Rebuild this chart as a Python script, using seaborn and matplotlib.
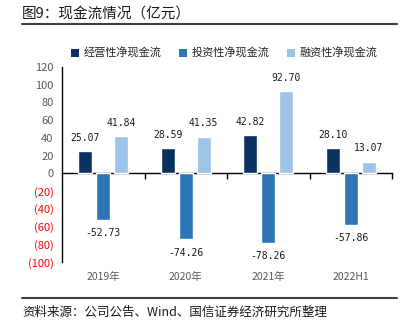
import matplotlib
matplotlib.use("Agg")
import matplotlib.pyplot as plt
import seaborn as sns
import pandas as pd
from matplotlib.patches import Patch

sns.set_style("white")
plt.rcParams['font.family'] = ['Noto Sans CJK SC', 'DejaVu Sans']

categories = ["2019年", "2020年", "2021年", "2022H1"]
series = ["经营性净现金流", "投资性净现金流", "融资性净现金流"]
operating = [25.07, 28.59, 42.82, 28.10]
investing = [-52.73, -74.26, -78.26, -57.86]
financing = [41.84, 41.35, 92.70, 13.07]
yticks = [120, 100, 80, 60, 40, 20, 0, -20, -40, -60, -80, -100]
colors = ["#0b3161", "#2e75b6", "#9dc3e6"]

rows = []
for s, vals in zip(series, [operating, investing, financing]):
    for c, v in zip(categories, vals):
        rows.append({"cat": c, "series": s, "value": v})
df = pd.DataFrame(rows)

fig = plt.figure(figsize=(4.04, 3.25), dpi=100)
ax = fig.add_axes([62/404, 1-262/325, 330/404, 195/325])

sns.barplot(data=df, x="cat", y="value", hue="series", hue_order=series,
            order=categories, palette=colors, width=0.65, gap=0.22,
            ax=ax, legend=False, saturation=1)

ax.set_xlim(-0.5, 3.5)
ax.set_ylim(-100, 120)
ax.set_xlabel("")
ax.set_ylabel("")
ax.set_yticks(yticks)
ylabels = [str(t) if t >= 0 else f"({-t})" for t in yticks]
ax.set_yticklabels(ylabels)
for lbl, t in zip(ax.get_yticklabels(), yticks):
    lbl.set_color("#ff0000" if t < 0 else "#595959")
    lbl.set_fontsize(8)
ax.tick_params(axis="y", length=4, width=1, color="black", direction="out", pad=2)
ax.tick_params(axis="x", length=0, pad=7, labelsize=7.5, labelcolor="#595959")

for sp in ["top", "right", "bottom"]:
    ax.spines[sp].set_visible(False)
ax.spines["left"].set_color("black")
ax.spines["left"].set_linewidth(1)

sec = ax.secondary_xaxis(100/220)
sec.set_xticks([0.5, 1.5, 2.5, 3.5])
sec.set_xticklabels([])
sec.tick_params(length=4, width=1, color="black", direction="out")
sec.spines["bottom"].set_color("black")
sec.spines["bottom"].set_linewidth(1)

for cont in ax.containers:
    ax.bar_label(cont, labels=[f"{v:.2f}" for v in cont.datavalues], padding=6,
                 fontsize=7, family="DejaVu Sans Mono", color="#1a1a1a")

handles = [Patch(facecolor=c, edgecolor="none") for c in colors]
leg = fig.legend(handles, series, loc="center", ncol=3,
                 frameon=False, fontsize=8, handlelength=0.7, handleheight=0.7,
                 handletextpad=0.4, columnspacing=1.6)
leg.set_bbox_to_anchor((0.555, 1-53/325), transform=fig.transFigure)

fig.text(22/404, 1-14/325, "图9：现金流情况（亿元）", fontsize=10.5, color="#1a1a1a", va="center", ha="left")
fig.add_artist(plt.Line2D([22/404, 397/404], [1-24/325, 1-24/325], color="#404040", lw=1.5))
fig.add_artist(plt.Line2D([22/404, 397/404], [1-298/325, 1-298/325], color="#404040", lw=1.5))
fig.text(22/404, 1-312/325, "资料来源：公司公告、Wind、国信证券经济研究所整理", fontsize=9, color="#1a1a1a", va="center", ha="left")

fig.savefig("out.png", dpi=100)
